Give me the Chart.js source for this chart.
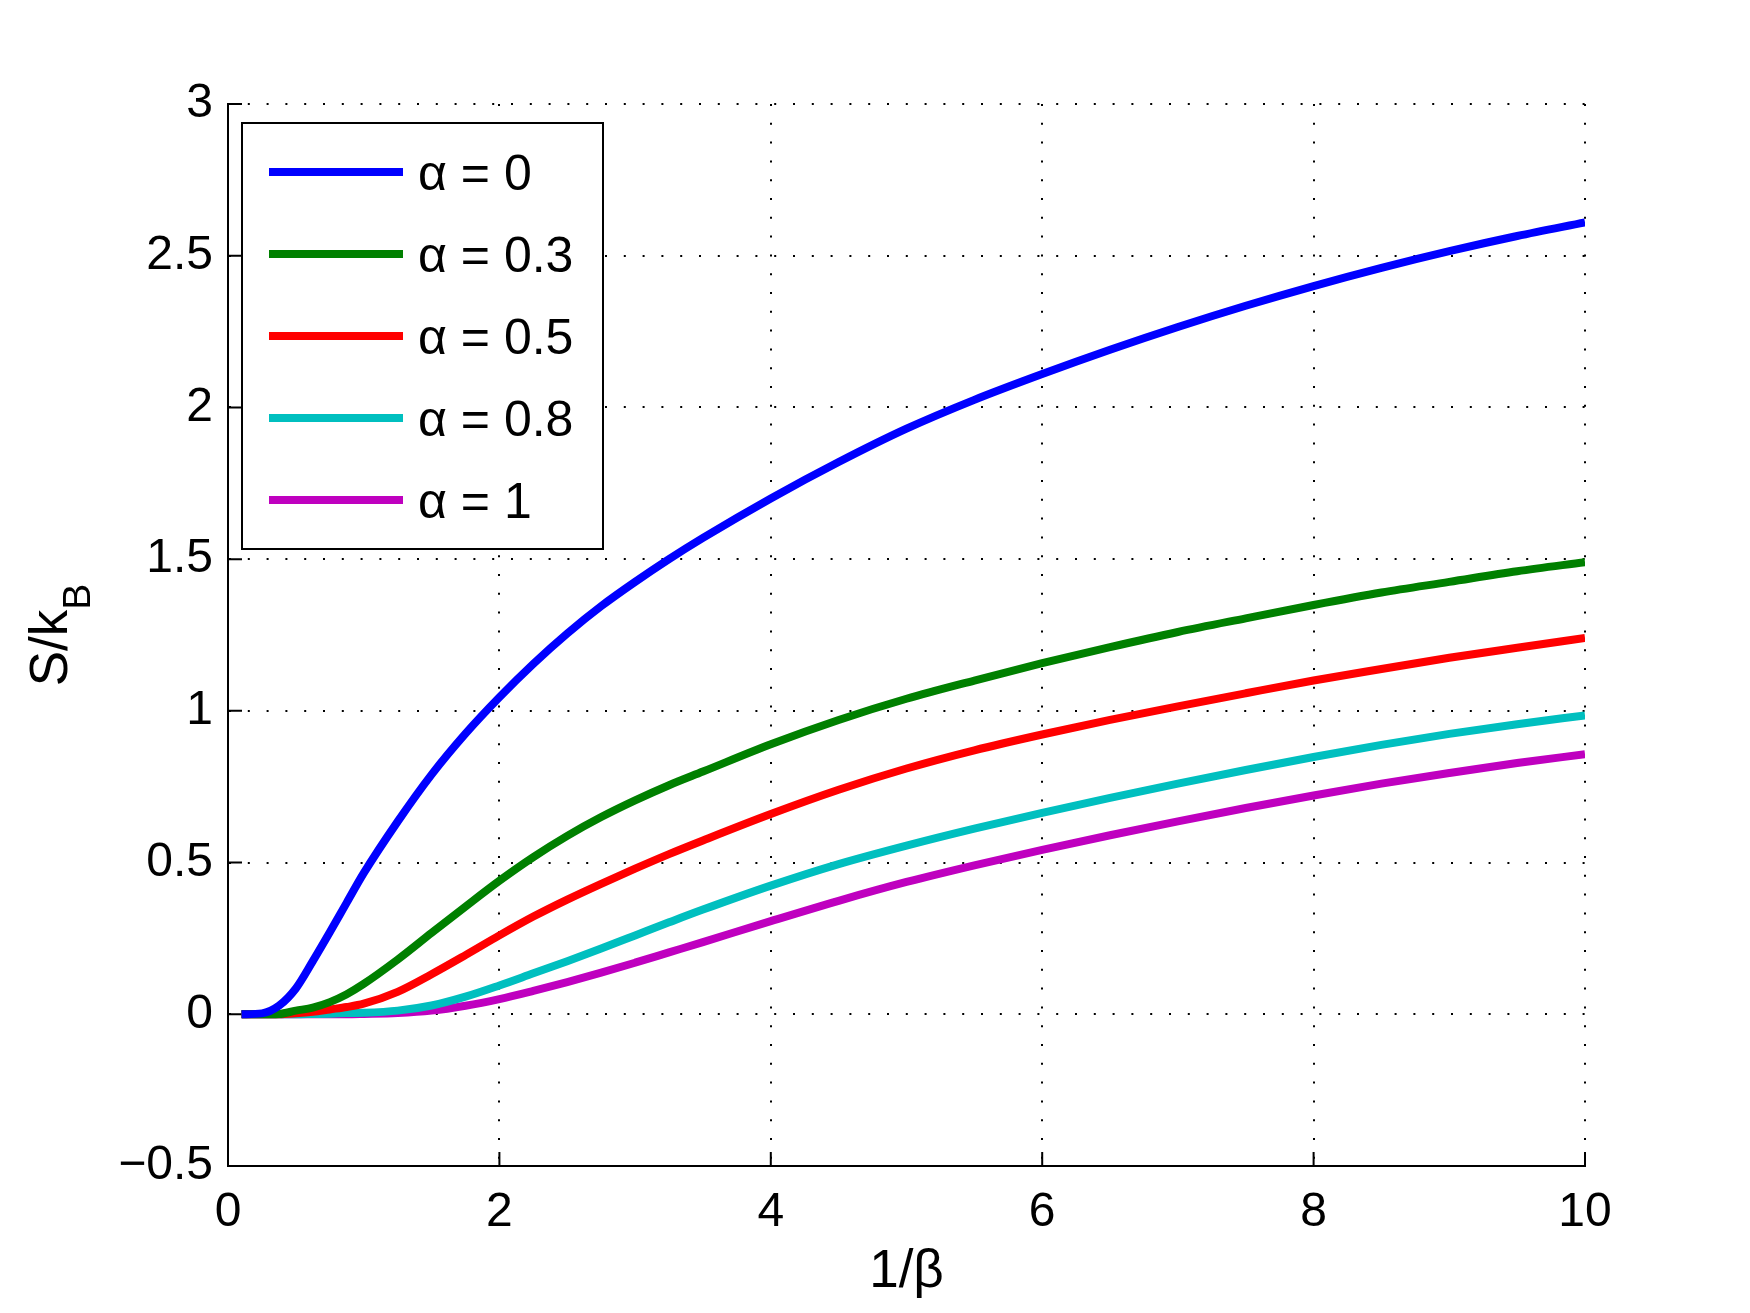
<!DOCTYPE html>
<html lang="en">
<head>
    <meta charset="UTF-8">
    <title>S/kB vs 1/beta</title>
    <script src="https://cdn.jsdelivr.net/npm/chart.js"></script>
    <style>
        body { margin: 0; background: #fff; }
        canvas { display: block; }
    </style>
</head>
<body>
    <canvas id="entropyChart" width="1750" height="1313"></canvas>
    <script>
        // 1/beta sample points
        const xs = [0.1, 0.25, 0.375, 0.5, 0.625, 0.75, 0.875, 1, 1.25, 1.5, 1.75, 2, 2.25, 2.5, 2.75, 3, 3.25, 3.5,
                    4, 4.5, 5, 5.5, 6, 6.5, 7, 7.5, 8, 8.5, 9, 9.5, 10];

        // S/kB, one array per alpha
        const alpha0  = [0, 0.003, 0.028, 0.085, 0.175, 0.27, 0.368, 0.465, 0.635, 0.79, 0.925, 1.045, 1.155, 1.255, 1.345, 1.425, 1.50, 1.57,
                         1.70, 1.82, 1.93, 2.025, 2.11, 2.19, 2.265, 2.335, 2.40, 2.46, 2.515, 2.565, 2.61];
        const alpha03 = [0, 0, 0.001, 0.012, 0.022, 0.04, 0.066, 0.10, 0.18, 0.268, 0.355, 0.44, 0.518, 0.588, 0.65, 0.705, 0.755, 0.80,
                         0.89, 0.97, 1.04, 1.10, 1.157, 1.21, 1.26, 1.305, 1.349, 1.39, 1.425, 1.46, 1.49];
        const alpha05 = [0, 0, 0, 0.003, 0.008, 0.016, 0.024, 0.035, 0.074, 0.132, 0.195, 0.26, 0.322, 0.378, 0.43, 0.48, 0.528, 0.573,
                         0.66, 0.74, 0.81, 0.87, 0.922, 0.97, 1.015, 1.058, 1.10, 1.138, 1.175, 1.208, 1.24];
        const alpha08 = [0, 0, 0, 0, 0.001, 0.002, 0.004, 0.005, 0.012, 0.029, 0.058, 0.095, 0.135, 0.175, 0.217, 0.26, 0.303, 0.345,
                         0.424, 0.495, 0.556, 0.612, 0.664, 0.713, 0.76, 0.805, 0.848, 0.888, 0.924, 0.956, 0.985];
        const alpha1  = [0, 0, 0, 0, 0, 0, 0, 0.001, 0.004, 0.012, 0.028, 0.05, 0.077, 0.106, 0.137, 0.170, 0.204, 0.238,
                         0.307, 0.374, 0.436, 0.491, 0.542, 0.59, 0.636, 0.68, 0.721, 0.76, 0.795, 0.828, 0.857];

        const seriesLabels = ['α = 0', 'α = 0.3', 'α = 0.5', 'α = 0.8', 'α = 1'];
        const seriesColors = ['#0000ff', '#008000', '#ff0000', '#00bfbf', '#bf00bf'];
        const seriesValues = [alpha0, alpha03, alpha05, alpha08, alpha1];

        const FONT = '"Liberation Sans", Arial, Helvetica, sans-serif';

        // MATLAB-like extras: inward ticks, axis titles, boxed legend
        const matlabLook = {
            id: 'matlabLook',
            beforeDatasetsDraw(chart) {
                const { ctx, chartArea: a, scales: { x, y } } = chart;
                ctx.save();
                ctx.strokeStyle = '#000';
                ctx.lineWidth = 2;
                ctx.beginPath();
                x.ticks.forEach(t => {
                    const px = x.getPixelForValue(t.value);
                    ctx.moveTo(px, a.bottom);
                    ctx.lineTo(px, a.bottom - 14);
                });
                y.ticks.forEach(t => {
                    const py = y.getPixelForValue(t.value);
                    ctx.moveTo(a.left, py);
                    ctx.lineTo(a.left + 14, py);
                });
                ctx.stroke();
                ctx.restore();
            },
            afterDraw(chart) {
                const { ctx, chartArea: a } = chart;
                ctx.save();
                ctx.fillStyle = '#000';

                // x title
                ctx.font = '53px ' + FONT;
                ctx.textAlign = 'center';
                ctx.textBaseline = 'alphabetic';
                ctx.fillText('1/β', (a.left + a.right) / 2, 1287);

                // y title with subscript
                ctx.save();
                ctx.translate(67, (a.top + a.bottom) / 2);
                ctx.rotate(-Math.PI / 2);
                ctx.textAlign = 'left';
                ctx.font = '53px ' + FONT;
                const wMain = ctx.measureText('S/k').width;
                ctx.font = '39px ' + FONT;
                const wSub = ctx.measureText('B').width;
                const x0 = -(wMain + wSub) / 2;
                ctx.font = '53px ' + FONT;
                ctx.fillText('S/k', x0, 0);
                ctx.font = '39px ' + FONT;
                ctx.fillText('B', x0 + wMain, 23);
                ctx.restore();

                // legend box
                const bx = 242, by = 123, bw = 361, bh = 426;
                ctx.fillStyle = '#fff';
                ctx.fillRect(bx, by, bw, bh);
                ctx.strokeStyle = '#000';
                ctx.lineWidth = 2;
                ctx.strokeRect(bx, by, bw, bh);
                ctx.font = '50px ' + FONT;
                ctx.textAlign = 'left';
                chart.data.datasets.forEach((ds, i) => {
                    const ly = 172 + i * 82;
                    ctx.strokeStyle = ds.borderColor;
                    ctx.lineWidth = 8;
                    ctx.beginPath();
                    ctx.moveTo(269, ly);
                    ctx.lineTo(403, ly);
                    ctx.stroke();
                    ctx.fillStyle = '#000';
                    ctx.fillText(ds.label, 418, ly + 18);
                });
                ctx.restore();
            }
        };

        const ctx = document.getElementById('entropyChart').getContext('2d');
        new Chart(ctx, {
            type: 'line',
            data: {
                datasets: seriesValues.map((vals, i) => ({
                    label: seriesLabels[i],
                    borderColor: seriesColors[i],
                    backgroundColor: seriesColors[i],
                    borderWidth: 8,
                    pointRadius: 0,
                    cubicInterpolationMode: 'monotone',
                    clip: 0,
                    data: xs.map((x, j) => ({ x: x, y: vals[j] }))
                }))
            },
            options: {
                responsive: false,
                animation: false,
                layout: { padding: { left: 0, right: 165, top: 104, bottom: 0 } },
                plugins: {
                    legend: { display: false },
                    tooltip: { enabled: false }
                },
                scales: {
                    x: {
                        type: 'linear',
                        min: 0,
                        max: 10,
                        afterFit: s => { s.height = 147; },
                        ticks: {
                            stepSize: 2,
                            color: '#000',
                            padding: 18,
                            maxRotation: 0,
                            font: { family: FONT, size: 48 }
                        },
                        grid: { color: '#000', lineWidth: 2, drawTicks: false },
                        border: { display: true, color: '#000', width: 2, dash: [2, 16.8] }
                    },
                    y: {
                        min: -0.5,
                        max: 3,
                        afterFit: s => { s.width = 228; },
                        ticks: {
                            stepSize: 0.5,
                            color: '#000',
                            padding: 15,
                            font: { family: FONT, size: 48 },
                            callback: v => (v < 0 ? '\u2212' + Math.abs(v) : String(v))
                        },
                        grid: { color: '#000', lineWidth: 2, drawTicks: false },
                        border: { display: true, color: '#000', width: 2, dash: [2, 16.8] }
                    }
                }
            },
            plugins: [matlabLook]
        });
    </script>
</body>
</html>
